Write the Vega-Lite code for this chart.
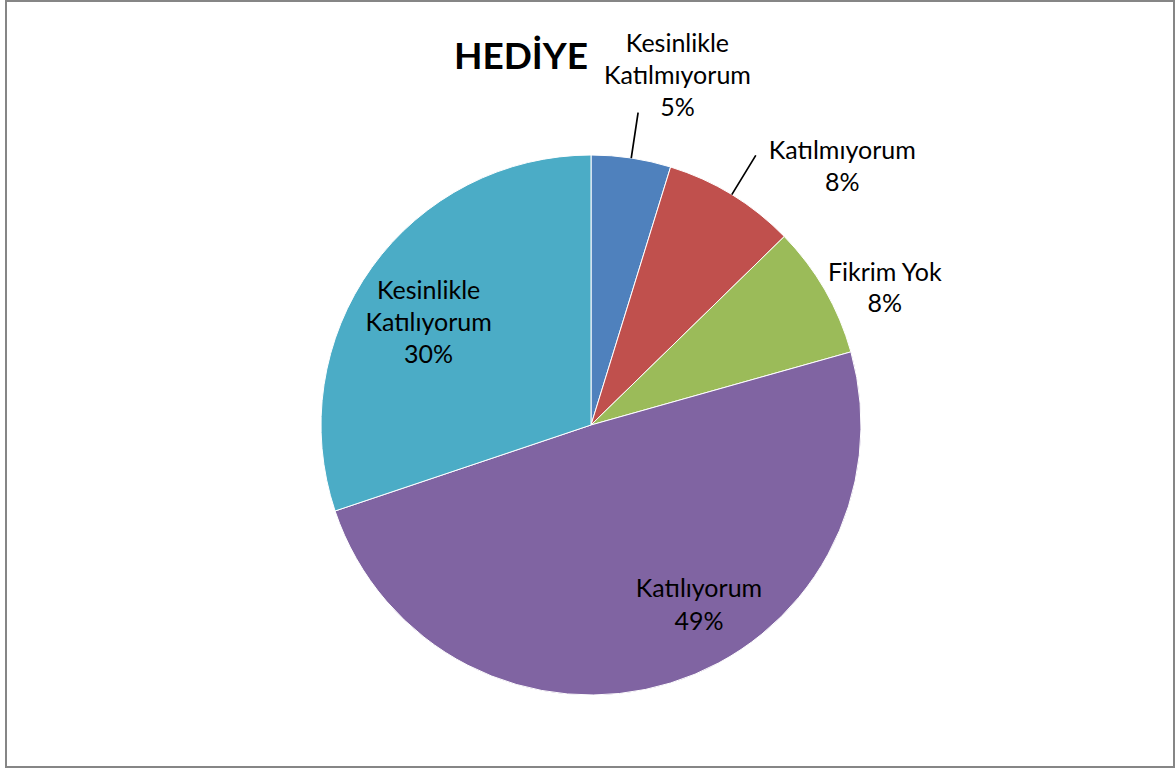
{
  "$schema": "https://vega.github.io/schema/vega-lite/v6.json",
  "width": 1168,
  "height": 766,
  "autosize": {"type": "none"},
  "padding": {"left": 6, "top": 1, "right": 2, "bottom": 2},
  "background": "white",
  "view": {"stroke": "#868686", "strokeWidth": 2, "fill": "white"},
  "config": {"view": {"stroke": "#868686", "strokeWidth": 2}, "font": "Lato"},
  "title": {"text": "HEDİYE", "font": "Lato", "fontSize": 37, "fontWeight": "bold", "color": "black", "anchor": "middle", "frame": "group", "dx": -69, "offset": -105, "baseline": "alphabetic"},
  "data": {"values": [
    {"category": "Kesinlikle Katılmıyorum", "count": 3, "order": 1, "label": "Kesinlikle\nKatılmıyorum\n5%"},
    {"category": "Katılmıyorum", "count": 5, "order": 2, "label": "Katılmıyorum\n8%"},
    {"category": "Fikrim Yok", "count": 5, "order": 3, "label": "Fikrim Yok\n8%"},
    {"category": "Katılıyorum", "count": 31, "order": 4, "label": "Katılıyorum\n49%"},
    {"category": "Kesinlikle Katılıyorum", "count": 19, "order": 5, "label": "Kesinlikle\nKatılıyorum\n30%"}
  ]},
  "encoding": {
    "theta": {"field": "count", "type": "quantitative", "stack": true},
    "order": {"field": "order", "type": "quantitative"}
  },
  "layer": [
    {
      "mark": {"type": "arc", "outerRadius": 270, "stroke": "white", "strokeWidth": 1, "xOffset": 1, "yOffset": 41},
      "encoding": {
        "color": {"field": "category", "type": "nominal", "legend": null,
          "scale": {"domain": ["Kesinlikle Katılmıyorum", "Katılmıyorum", "Fikrim Yok", "Katılıyorum", "Kesinlikle Katılıyorum"],
                    "range": ["#4F81BD", "#C0504D", "#9BBB59", "#8064A2", "#4BACC6"]}}
      }
    },
    {
      "mark": {"type": "arc", "innerRadius": 270, "outerRadius": 316, "padAngle": 3, "stroke": "black", "strokeWidth": 1.7, "fillOpacity": 0, "xOffset": 1, "yOffset": 41},
      "encoding": {
        "strokeOpacity": {"condition": {"test": "datum.order <= 2", "value": 1}, "value": 0}
      }
    },
    {
      "mark": {"type": "text", "radius": 345, "dx": 35, "dy": -40, "xOffset": 1, "yOffset": 41, "font": "Lato", "fontSize": 25, "lineHeight": 32, "lineBreak": "\n", "align": "center", "baseline": "middle", "color": "black"},
      "encoding": {"text": {"condition": {"test": "datum.order == 1", "field": "label"}, "value": ""}}
    },
    {
      "mark": {"type": "text", "radius": 340, "dx": 74, "dy": 16, "xOffset": 1, "yOffset": 41, "font": "Lato", "fontSize": 25, "lineHeight": 32, "lineBreak": "\n", "align": "center", "baseline": "middle", "color": "black"},
      "encoding": {"text": {"condition": {"test": "datum.order == 2", "field": "label"}, "value": ""}}
    },
    {
      "mark": {"type": "text", "radius": 330, "dx": 8, "dy": 13, "xOffset": 1, "yOffset": 41, "font": "Lato", "fontSize": 25, "lineHeight": 31, "lineBreak": "\n", "align": "center", "baseline": "middle", "color": "black"},
      "encoding": {"text": {"condition": {"test": "datum.order == 3", "field": "label"}, "value": ""}}
    },
    {
      "mark": {"type": "text", "radius": 200, "dx": 49, "dy": -27, "xOffset": 1, "yOffset": 41, "font": "Lato", "fontSize": 25, "lineHeight": 33, "lineBreak": "\n", "align": "center", "baseline": "middle", "color": "black"},
      "encoding": {"text": {"condition": {"test": "datum.order == 4", "field": "label"}, "value": ""}}
    },
    {
      "mark": {"type": "text", "radius": 200, "dx": 0, "dy": -17, "xOffset": 1, "yOffset": 41, "font": "Lato", "fontSize": 25, "lineHeight": 32, "lineBreak": "\n", "align": "center", "baseline": "middle", "color": "black"},
      "encoding": {"text": {"condition": {"test": "datum.order == 5", "field": "label"}, "value": ""}}
    }
  ]
}
